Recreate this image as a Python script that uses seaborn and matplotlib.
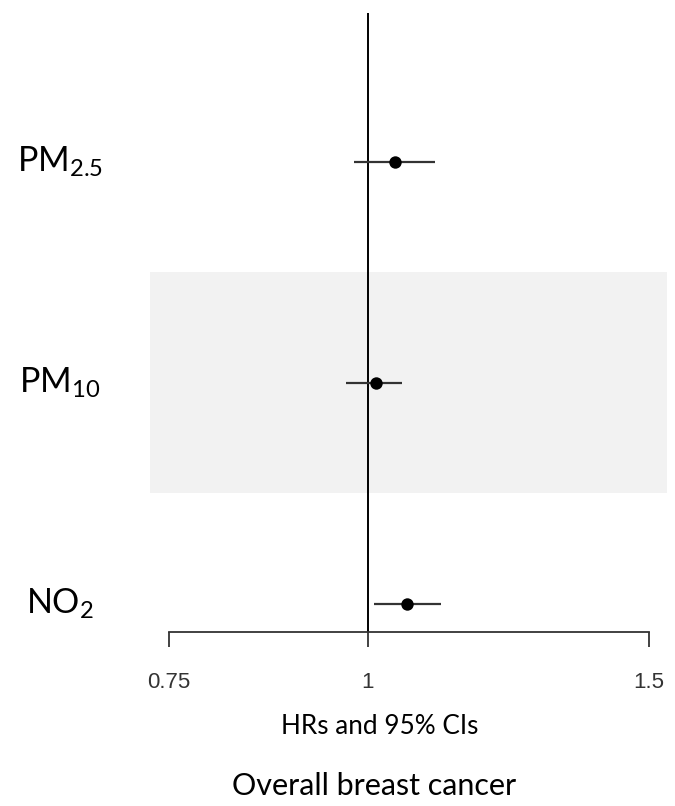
import matplotlib
matplotlib.use("Agg")
import matplotlib.pyplot as plt
import matplotlib.transforms as mtransforms
from matplotlib.ticker import NullLocator, FixedLocator, FixedFormatter
import seaborn as sns
import pandas as pd

# ---- data ----
pollutants = ["PM$_{2.5}$", "PM$_{10}$", "NO$_{2}$"]
row_pos = [3, 2, 1]
hr = [1.040, 1.012, 1.058]
ci_low = [0.980, 0.969, 1.009]
ci_high = [1.102, 1.050, 1.111]
tick_vals = [0.75, 1.0, 1.5]
tick_labels = ["0.75", "1", "1.5"]
xlabel = "HRs and 95% CIs"
title = "Overall breast cancer"

df = pd.DataFrame({"label": pollutants, "y": row_pos, "hr": hr,
                   "lo": ci_low, "hi": ci_high})

sns.set_theme(style="white")
plt.rcParams["font.family"] = ["Lato", "DejaVu Sans"]
plt.rcParams["mathtext.fontset"] = "custom"
plt.rcParams["mathtext.rm"] = "Lato"
plt.rcParams["mathtext.it"] = "Lato:italic"
plt.rcParams["mathtext.bf"] = "Lato:bold"
plt.rcParams["mathtext.default"] = "regular"

W, H = 675, 806
fig = plt.figure(figsize=(W / 100, H / 100), dpi=100)
left_px, right_px, top_px, bot_px = 150.2, 669.0, 13.0, 632.0
ax = fig.add_axes([left_px / W, (H - bot_px) / H,
                   (right_px - left_px) / W, (bot_px - top_px) / H])

ax.set_xscale("log")
ax.set_xlim(0.73, 1.545)
ax.set_ylim(0.873, 3.674)

# shaded band behind middle row
ax.fill_between([0.73, 1.54], 1.5, 2.5, color="#f2f2f2", lw=0, zorder=0)

# reference line
ax.axvline(1.0, color="black", lw=1.4, zorder=2)

# CIs
ax.hlines(df["y"], df["lo"], df["hi"], color="#333333", lw=1.6, zorder=3)
# points
sns.scatterplot(data=df, x="hr", y="y", ax=ax, color="black", s=80,
                edgecolor="black", linewidth=0, zorder=4, legend=False)

# axes styling
for s in ["left", "right", "top"]:
    ax.spines[s].set_visible(False)
ax.spines["bottom"].set_bounds(0.75, 1.5)
ax.spines["bottom"].set_color("#333333")
ax.spines["bottom"].set_linewidth(1.3)
ax.xaxis.set_major_locator(FixedLocator(tick_vals))
ax.xaxis.set_major_formatter(FixedFormatter(tick_labels))
ax.xaxis.set_minor_locator(NullLocator())
ax.tick_params(axis="x", direction="out", length=10.8, width=1.3,
               color="#333333", pad=18, labelsize=16, labelcolor="#333333",
               bottom=True)
for t in ax.get_xticklabels():
    t.set_fontfamily(["Liberation Sans", "DejaVu Sans"])
ax.set_yticks([])
ax.set_xlabel("")
ax.set_ylabel("")
ax.grid(False)

# row labels
trans = mtransforms.blended_transform_factory(fig.transFigure, ax.transData)
for lab, y in zip(df["label"], df["y"]):
    ax.text(60 / W, y, lab, transform=trans, ha="center", va="center",
            fontsize=24.5, color="black", clip_on=False)

fig.text(380 / W, 1 - 726 / H, xlabel, ha="center", va="center",
         fontsize=18.8, color="black")
fig.text(374 / W, 1 - 786 / H, title, ha="center", va="center",
         fontsize=22, color="black")

fig.savefig("out.png", dpi=100, facecolor="white")
